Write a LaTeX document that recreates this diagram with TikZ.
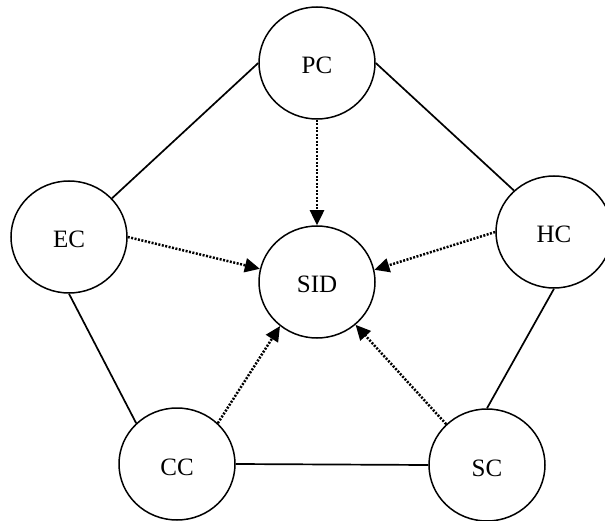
\documentclass[tikz,border=0pt]{standalone}
\usepackage{fontspec}
\setmainfont{Liberation Serif}
\usetikzlibrary{arrows.meta,shapes.geometric}
\begin{document}
\begin{tikzpicture}[x=1pt,y=-1pt,
  nodebox/.style={ellipse,draw,line width=1.5pt,minimum width=116pt,minimum height=112pt,inner sep=0pt,text height=22pt,text depth=0pt,font=\fontsize{25}{29}\selectfont},
  solidlink/.style={line width=1.7pt},
  dotlink/.style={line width=2.5pt,dash pattern=on 2pt off 1.5pt,-{Triangle[length=15pt,width=14pt]}}]
\useasboundingbox (0,0) rectangle (605,521);
\node[nodebox] (PC) at (317,63) {PC};
\node[nodebox] (EC) at (69,237) {EC};
\node[nodebox] (HC) at (554,232) {HC};
\node[nodebox] (SID) at (317,282) {SID};
\node[nodebox] (CC) at (177,464) {CC};
\node[nodebox] (SC) at (487,465) {SC};
\draw[solidlink] (PC.west) -- (EC.42);
\draw[solidlink] (PC.east) -- (HC.134);
\draw[solidlink] (EC.south) -- (CC.135);
\draw[solidlink] (HC.south) -- (SC.north);
\draw[solidlink] (CC.east) -- (SC.west);
\draw[dotlink] (PC.south) -- (SID.north);
\draw[dotlink] (EC.east) -- (SID.167);
\draw[dotlink] (HC.west) -- (SID.12);
\draw[dotlink] (CC.45) -- (SID.-130);
\draw[dotlink] (SC.135) -- (SID.-48);
\end{tikzpicture}
\end{document}
